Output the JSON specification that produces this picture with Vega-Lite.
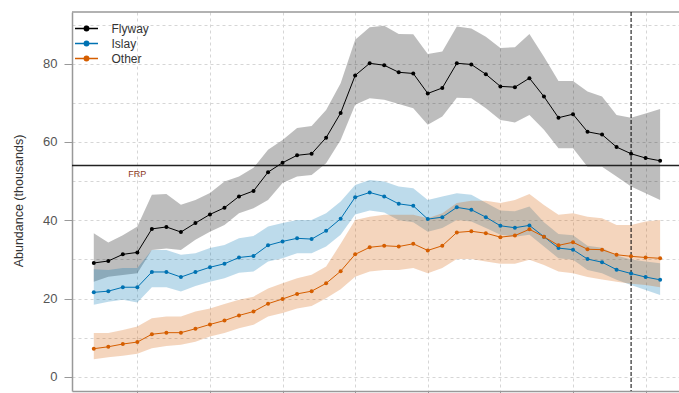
{
  "$schema": "https://vega.github.io/schema/vega-lite/v6.json",
  "width": 607,
  "height": 379,
  "autosize": {"type": "none"},
  "padding": {"left": 72, "top": 12, "right": 0, "bottom": 2},
  "background": "white",
  "config": {"view": {"stroke": null}, "font": "Liberation Sans"},
  "datasets": {
    "series": [
      {"year":1977,"series":"Flyway","value":29.1,"lo":24.3,"hi":36.7},
      {"year":1978,"series":"Flyway","value":29.6,"lo":25.6,"hi":34.3},
      {"year":1979,"series":"Flyway","value":31.3,"lo":26.0,"hi":36.2},
      {"year":1980,"series":"Flyway","value":31.8,"lo":26.5,"hi":38.4},
      {"year":1981,"series":"Flyway","value":37.8,"lo":32.4,"hi":46.5},
      {"year":1982,"series":"Flyway","value":38.3,"lo":32.8,"hi":46.7},
      {"year":1983,"series":"Flyway","value":37.0,"lo":32.4,"hi":44.0},
      {"year":1984,"series":"Flyway","value":39.3,"lo":35.0,"hi":45.2},
      {"year":1985,"series":"Flyway","value":41.5,"lo":37.1,"hi":47.0},
      {"year":1986,"series":"Flyway","value":43.2,"lo":38.8,"hi":49.9},
      {"year":1987,"series":"Flyway","value":46.1,"lo":41.8,"hi":51.2},
      {"year":1988,"series":"Flyway","value":47.5,"lo":43.1,"hi":53.4},
      {"year":1989,"series":"Flyway","value":52.3,"lo":45.2,"hi":58.0},
      {"year":1990,"series":"Flyway","value":54.7,"lo":49.5,"hi":60.5},
      {"year":1991,"series":"Flyway","value":56.6,"lo":51.2,"hi":63.6},
      {"year":1992,"series":"Flyway","value":57.0,"lo":51.6,"hi":64.1},
      {"year":1993,"series":"Flyway","value":61.1,"lo":54.6,"hi":68.2},
      {"year":1994,"series":"Flyway","value":67.4,"lo":60.5,"hi":75.0},
      {"year":1995,"series":"Flyway","value":77.0,"lo":69.5,"hi":86.1},
      {"year":1996,"series":"Flyway","value":80.1,"lo":71.2,"hi":89.3},
      {"year":1997,"series":"Flyway","value":79.6,"lo":70.8,"hi":89.7},
      {"year":1998,"series":"Flyway","value":77.8,"lo":69.7,"hi":87.6},
      {"year":1999,"series":"Flyway","value":77.5,"lo":68.6,"hi":87.5},
      {"year":2000,"series":"Flyway","value":72.4,"lo":64.4,"hi":82.5},
      {"year":2001,"series":"Flyway","value":73.8,"lo":66.5,"hi":83.1},
      {"year":2002,"series":"Flyway","value":80.1,"lo":71.3,"hi":89.5},
      {"year":2003,"series":"Flyway","value":79.8,"lo":71.2,"hi":89.0},
      {"year":2004,"series":"Flyway","value":77.3,"lo":68.6,"hi":86.9},
      {"year":2005,"series":"Flyway","value":74.2,"lo":65.6,"hi":84.0},
      {"year":2006,"series":"Flyway","value":74.0,"lo":65.0,"hi":84.2},
      {"year":2007,"series":"Flyway","value":76.3,"lo":66.9,"hi":87.6},
      {"year":2008,"series":"Flyway","value":71.6,"lo":63.1,"hi":81.8},
      {"year":2009,"series":"Flyway","value":66.2,"lo":58.4,"hi":75.6},
      {"year":2010,"series":"Flyway","value":67.1,"lo":58.4,"hi":75.6},
      {"year":2011,"series":"Flyway","value":62.6,"lo":53.7,"hi":72.9},
      {"year":2012,"series":"Flyway","value":61.9,"lo":53.7,"hi":71.6},
      {"year":2013,"series":"Flyway","value":58.7,"lo":51.2,"hi":66.9},
      {"year":2014,"series":"Flyway","value":57.0,"lo":48.6,"hi":66.2},
      {"year":2015,"series":"Flyway","value":55.9,"lo":46.9,"hi":67.3},
      {"year":2016,"series":"Flyway","value":55.2,"lo":45.2,"hi":68.4},
      {"year":1977,"series":"Islay","value":21.6,"lo":18.4,"hi":27.5},
      {"year":1978,"series":"Islay","value":21.9,"lo":19.2,"hi":27.3},
      {"year":1979,"series":"Islay","value":22.9,"lo":19.7,"hi":27.8},
      {"year":1980,"series":"Islay","value":22.9,"lo":19.0,"hi":27.8},
      {"year":1981,"series":"Islay","value":26.8,"lo":22.9,"hi":32.4},
      {"year":1982,"series":"Islay","value":26.8,"lo":22.9,"hi":32.4},
      {"year":1983,"series":"Islay","value":25.5,"lo":21.8,"hi":31.2},
      {"year":1984,"series":"Islay","value":26.8,"lo":23.2,"hi":31.6},
      {"year":1985,"series":"Islay","value":28.0,"lo":24.3,"hi":32.9},
      {"year":1986,"series":"Islay","value":28.9,"lo":25.2,"hi":33.7},
      {"year":1987,"series":"Islay","value":30.5,"lo":26.6,"hi":35.4},
      {"year":1988,"series":"Islay","value":30.9,"lo":26.9,"hi":36.0},
      {"year":1989,"series":"Islay","value":33.6,"lo":29.5,"hi":38.4},
      {"year":1990,"series":"Islay","value":34.6,"lo":30.3,"hi":39.3},
      {"year":1991,"series":"Islay","value":35.4,"lo":31.6,"hi":40.1},
      {"year":1992,"series":"Islay","value":35.2,"lo":31.6,"hi":40.1},
      {"year":1993,"series":"Islay","value":37.3,"lo":33.3,"hi":41.8},
      {"year":1994,"series":"Islay","value":40.4,"lo":36.3,"hi":44.8},
      {"year":1995,"series":"Islay","value":45.9,"lo":41.5,"hi":49.0},
      {"year":1996,"series":"Islay","value":47.1,"lo":42.5,"hi":50.3},
      {"year":1997,"series":"Islay","value":46.1,"lo":42.0,"hi":49.9},
      {"year":1998,"series":"Islay","value":44.2,"lo":40.0,"hi":48.6},
      {"year":1999,"series":"Islay","value":43.7,"lo":39.5,"hi":48.2},
      {"year":2000,"series":"Islay","value":40.3,"lo":37.1,"hi":45.2},
      {"year":2001,"series":"Islay","value":40.8,"lo":38.0,"hi":46.1},
      {"year":2002,"series":"Islay","value":43.3,"lo":40.1,"hi":46.9},
      {"year":2003,"series":"Islay","value":42.7,"lo":39.7,"hi":46.5},
      {"year":2004,"series":"Islay","value":40.8,"lo":38.0,"hi":44.5},
      {"year":2005,"series":"Islay","value":38.6,"lo":36.3,"hi":42.5},
      {"year":2006,"series":"Islay","value":38.1,"lo":35.8,"hi":42.3},
      {"year":2007,"series":"Islay","value":38.7,"lo":36.3,"hi":43.5},
      {"year":2008,"series":"Islay","value":35.8,"lo":33.3,"hi":39.5},
      {"year":2009,"series":"Islay","value":32.9,"lo":30.3,"hi":36.5},
      {"year":2010,"series":"Islay","value":32.5,"lo":29.9,"hi":36.2},
      {"year":2011,"series":"Islay","value":30.1,"lo":27.3,"hi":33.5},
      {"year":2012,"series":"Islay","value":29.3,"lo":26.5,"hi":33.0},
      {"year":2013,"series":"Islay","value":27.4,"lo":24.8,"hi":31.0},
      {"year":2014,"series":"Islay","value":26.4,"lo":23.5,"hi":30.0},
      {"year":2015,"series":"Islay","value":25.5,"lo":22.2,"hi":29.5},
      {"year":2016,"series":"Islay","value":24.8,"lo":20.9,"hi":29.0},
      {"year":1977,"series":"Other","value":7.2,"lo":4.5,"hi":11.2},
      {"year":1978,"series":"Other","value":7.7,"lo":5.0,"hi":11.2},
      {"year":1979,"series":"Other","value":8.4,"lo":5.4,"hi":12.0},
      {"year":1980,"series":"Other","value":8.9,"lo":5.9,"hi":12.9},
      {"year":1981,"series":"Other","value":10.9,"lo":7.3,"hi":15.0},
      {"year":1982,"series":"Other","value":11.3,"lo":7.9,"hi":15.4},
      {"year":1983,"series":"Other","value":11.3,"lo":8.2,"hi":15.4},
      {"year":1984,"series":"Other","value":12.3,"lo":9.0,"hi":16.7},
      {"year":1985,"series":"Other","value":13.4,"lo":10.3,"hi":17.5},
      {"year":1986,"series":"Other","value":14.4,"lo":11.2,"hi":18.6},
      {"year":1987,"series":"Other","value":15.7,"lo":12.4,"hi":19.7},
      {"year":1988,"series":"Other","value":16.7,"lo":13.3,"hi":20.5},
      {"year":1989,"series":"Other","value":18.7,"lo":15.4,"hi":22.6},
      {"year":1990,"series":"Other","value":19.9,"lo":16.3,"hi":23.9},
      {"year":1991,"series":"Other","value":21.2,"lo":17.5,"hi":25.2},
      {"year":1992,"series":"Other","value":21.9,"lo":18.1,"hi":26.1},
      {"year":1993,"series":"Other","value":23.9,"lo":20.1,"hi":28.2},
      {"year":1994,"series":"Other","value":27.0,"lo":22.4,"hi":34.0},
      {"year":1995,"series":"Other","value":31.3,"lo":25.6,"hi":40.1},
      {"year":1996,"series":"Other","value":33.1,"lo":26.9,"hi":40.9},
      {"year":1997,"series":"Other","value":33.5,"lo":27.3,"hi":41.4},
      {"year":1998,"series":"Other","value":33.3,"lo":27.3,"hi":41.4},
      {"year":1999,"series":"Other","value":34.0,"lo":27.8,"hi":41.4},
      {"year":2000,"series":"Other","value":32.3,"lo":26.5,"hi":40.5},
      {"year":2001,"series":"Other","value":33.5,"lo":27.8,"hi":41.8},
      {"year":2002,"series":"Other","value":36.9,"lo":30.1,"hi":44.4},
      {"year":2003,"series":"Other","value":37.2,"lo":30.1,"hi":45.0},
      {"year":2004,"series":"Other","value":36.7,"lo":29.5,"hi":45.0},
      {"year":2005,"series":"Other","value":35.7,"lo":28.9,"hi":44.4},
      {"year":2006,"series":"Other","value":36.1,"lo":28.9,"hi":45.2},
      {"year":2007,"series":"Other","value":37.7,"lo":29.9,"hi":46.7},
      {"year":2008,"series":"Other","value":35.8,"lo":28.6,"hi":43.9},
      {"year":2009,"series":"Other","value":33.6,"lo":26.9,"hi":41.4},
      {"year":2010,"series":"Other","value":34.4,"lo":26.5,"hi":41.8},
      {"year":2011,"series":"Other","value":32.6,"lo":25.5,"hi":40.9},
      {"year":2012,"series":"Other","value":32.5,"lo":24.9,"hi":40.5},
      {"year":2013,"series":"Other","value":31.2,"lo":24.3,"hi":38.8},
      {"year":2014,"series":"Other","value":30.8,"lo":23.8,"hi":38.8},
      {"year":2015,"series":"Other","value":30.5,"lo":23.5,"hi":39.7},
      {"year":2016,"series":"Other","value":30.3,"lo":22.9,"hi":40.1}
    ],
    "frp": [{"year": 1980, "value": 51.9, "label": "FRP"}]
  },
  "layer": [
    {
      "data": {"name": "series"},
      "mark": {"type": "area", "opacity": 0.26},
      "encoding": {
        "x": {
          "field": "year", "type": "quantitative",
          "scale": {"domain": [1975.5, 2017.3], "nice": false, "zero": false},
          "axis": {
            "values": [1980, 1985, 1990, 1995, 2000, 2005, 2010, 2015],
            "labels": false, "title": null,
            "grid": true, "gridDash": [3, 3], "gridColor": "#d6d6d6", "gridWidth": 1,
            "domainColor": "#999999", "domainWidth": 1.5,
            "tickColor": "#999999", "tickSize": 6, "tickWidth": 1
          }
        },
        "y": {
          "field": "lo", "type": "quantitative",
          "scale": {"domain": [-3.6, 93.2], "nice": false, "zero": false},
          "axis": {
            "values": [0, 10, 20, 30, 40, 50, 60, 70, 80, 90],
            "labelExpr": "datum.value % 20 == 0 ? datum.label : ''",
            "tickOpacity": {"condition": {"test": "datum.value % 20 == 0", "value": 1}, "value": 0},
            "grid": true, "gridDash": [3, 3], "gridColor": "#d6d6d6", "gridWidth": 1,
            "domainColor": "#999999", "domainWidth": 1.5,
            "tickColor": "#999999", "tickSize": 8, "tickWidth": 1,
            "labelFontSize": 13, "labelColor": "#555555", "labelPadding": 7,
            "title": "Abundance (thousands)",
            "titleFontSize": 12.5, "titleFontWeight": "normal", "titleColor": "#333333",
            "titleX": -54, "titleY": 188.5, "titleAlign": "center", "titleBaseline": "middle"
          }
        },
        "y2": {"field": "hi"},
        "color": {
          "field": "series", "type": "nominal",
          "scale": {"domain": ["Flyway", "Islay", "Other"], "range": ["#000000", "#0072B2", "#D55E00"]},
          "legend": {
            "title": null, "orient": "none", "legendX": 8, "legendY": 10,
            "symbolType": "M-2,0H2M-0.38,0A0.38,0.38,0,1,1,0.38,0A0.38,0.38,0,1,1,-0.38,0Z",
            "symbolSize": 132, "symbolStrokeWidth": 1.5, "symbolOpacity": 1,
            "labelFontSize": 12, "labelColor": "#333333", "labelOffset": 18.5,
            "rowPadding": 2, "padding": 0,
            "encode": {"symbols": {"update": {"fill": {"scale": "color", "field": "value"}, "stroke": {"scale": "color", "field": "value"}, "opacity": {"value": 1}}}}
          }
        }
      }
    },
    {
      "data": {"values": [{}]},
      "mark": {"type": "rule", "color": "#999999", "strokeWidth": 1.5},
      "encoding": {"y": {"datum": 93.2}}
    },
    {
      "data": {"values": [{}]},
      "mark": {"type": "rule", "color": "#222222", "strokeWidth": 1.5},
      "encoding": {"y": {"datum": 54}}
    },
    {
      "data": {"values": [{}]},
      "mark": {"type": "rule", "color": "#000000", "strokeWidth": 1, "strokeDash": [4, 2]},
      "encoding": {"x": {"datum": 2014}}
    },
    {
      "data": {"name": "frp"},
      "mark": {"type": "text", "fontSize": 9, "color": "#8B3A1A"},
      "encoding": {
        "x": {"field": "year", "type": "quantitative"},
        "y": {"field": "value", "type": "quantitative"},
        "text": {"field": "label"}
      }
    },
    {
      "data": {"name": "series"},
      "mark": {"type": "line", "strokeWidth": 1},
      "encoding": {
        "x": {"field": "year", "type": "quantitative"},
        "y": {"field": "value", "type": "quantitative"},
        "color": {
          "field": "series", "type": "nominal",
          "legend": {
            "title": null, "orient": "none", "legendX": 8, "legendY": 10,
            "symbolType": "M-2,0H2M-0.38,0A0.38,0.38,0,1,1,0.38,0A0.38,0.38,0,1,1,-0.38,0Z",
            "symbolSize": 132, "symbolStrokeWidth": 1.5, "symbolOpacity": 1,
            "labelFontSize": 12, "labelColor": "#333333", "labelOffset": 18.5,
            "rowPadding": 2, "padding": 0,
            "encode": {"symbols": {"update": {"fill": {"scale": "color", "field": "value"}, "stroke": {"scale": "color", "field": "value"}, "opacity": {"value": 1}}}}
          }
        }
      }
    },
    {
      "data": {"name": "series"},
      "mark": {"type": "point", "filled": true, "size": 16, "opacity": 1},
      "encoding": {
        "x": {"field": "year", "type": "quantitative"},
        "y": {"field": "value", "type": "quantitative"},
        "color": {
          "field": "series", "type": "nominal",
          "legend": {
            "title": null, "orient": "none", "legendX": 8, "legendY": 10,
            "symbolType": "M-2,0H2M-0.38,0A0.38,0.38,0,1,1,0.38,0A0.38,0.38,0,1,1,-0.38,0Z",
            "symbolSize": 132, "symbolStrokeWidth": 1.5, "symbolOpacity": 1,
            "labelFontSize": 12, "labelColor": "#333333", "labelOffset": 18.5,
            "rowPadding": 2, "padding": 0,
            "encode": {"symbols": {"update": {"fill": {"scale": "color", "field": "value"}, "stroke": {"scale": "color", "field": "value"}, "opacity": {"value": 1}}}}
          }
        }
      }
    }
  ]
}
